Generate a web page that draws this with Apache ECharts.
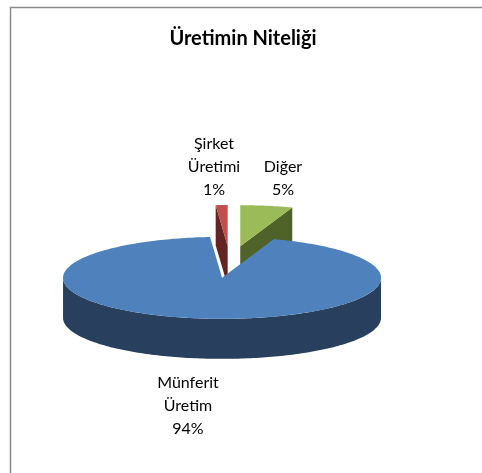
<!DOCTYPE html>
<html>
<head>
<meta charset="utf-8">
<script src="https://cdn.jsdelivr.net/npm/echarts@6/dist/echarts.min.js"></script>
<style>
  html, body { margin: 0; padding: 0; background: #fff; }
  #chart { width: 482px; height: 473px; }
</style>
</head>
<body>
<div id="chart"></div>
<script>
  // data, clockwise from 12 o'clock (shares in %, labels round them)
  const names = ['Diğer', 'Münferit Üretim', 'Şirket Üretimi'];
  const values = [5.3, 93.5, 1.2];

  const topColors = ['#9BBB59', '#4F81BD', '#C0504D'];
  const sideColors = ['#4F6228', '#283F5E', '#632523'];
  // label centres (px) and pie layout
  const labelXY = [[283, 178], [188, 406], [214, 167]];
  const cx = 230, cy = 262, rx = 159, ry = 41, depth = 40, explode = 62;

  const total = values.reduce((a, b) => a + b, 0);
  let acc = 0;
  const startA = [], endA = [];
  values.forEach(v => {
    startA.push(acc / total * Math.PI * 2);
    acc += v;
    endA.push(acc / total * Math.PI * 2);
  });

  function pt(a, ox, oy, dz) {
    return [cx + ox + rx * Math.sin(a), cy + oy - ry * Math.cos(a) + dz];
  }

  function arc(a0, a1, ox, oy, dz) {
    let pts = [];
    let n = Math.max(2, Math.ceil((a1 - a0) / 0.02));
    for (let i = 0; i <= n; i++) pts.push(pt(a0 + (a1 - a0) * i / n, ox, oy, dz));
    return pts;
  }

  let myChart = echarts.init(document.getElementById('chart'));

  myChart.setOption({
    animation: false,
    title: {
      text: 'Üretimin Niteliği',
      left: 238,
      top: 24,
      textAlign: 'center',
      textStyle: {
        fontFamily: 'Lato',
        fontWeight: 'bold',
        fontSize: 20,
        color: '#000'
      }
    },
    graphic: [{
      type: 'polyline',
      shape: { points: [[10.5, 473], [10.5, 7.5], [482, 7.5]] },
      style: { stroke: '#8c8c8c', lineWidth: 1.5, fill: null }
    }],
    series: [{
      type: 'custom',
      coordinateSystem: 'none',
      data: values,
      renderItem: function (params, api) {
        let i = params.dataIndex;
        let a0 = startA[i], a1 = endA[i];
        let mid = (a0 + a1) / 2;
        let ox = explode * Math.sin(mid);
        let oy = -explode * Math.cos(mid) * ry / rx;
        let apex = [cx + ox, cy + oy];
        let zBase = Math.round(-Math.cos(mid) * 100) + 200;
        let children = [];

        // radial faces that look towards the viewer
        [[a0, -1], [a1, 1]].forEach(([a, dir]) => {
          let ny = -dir * Math.sin(a); // north component of outward normal
          if (ny < -0.001) {
            let rim = pt(a, ox, oy, 0);
            children.push({
              type: 'polygon',
              z2: zBase,
              shape: { points: [apex, rim, [rim[0], rim[1] + depth], [apex[0], apex[1] + depth]] },
              style: { fill: sideColors[i] }
            });
          }
        });

        // outer wall, front half only
        let w0 = Math.max(a0, Math.PI / 2), w1 = Math.min(a1, Math.PI * 1.5);
        if (w1 > w0) {
          let topArc = arc(w0, w1, ox, oy, 0);
          let botArc = arc(w0, w1, ox, oy, depth).reverse();
          children.push({
            type: 'polygon',
            z2: zBase + 1,
            shape: { points: topArc.concat(botArc) },
            style: { fill: sideColors[i] }
          });
        }

        // top face
        children.push({
          type: 'polygon',
          z2: zBase + 2,
          shape: { points: [apex].concat(arc(a0, a1, ox, oy, 0)) },
          style: { fill: topColors[i] }
        });

        // label
        let pct = Math.round(api.value(0) / total * 100) + '%';
        children.push({
          type: 'text',
          z2: 1000,
          style: {
            text: names[i].split(' ').join('\n') + '\n' + pct,
            x: labelXY[i][0],
            y: labelXY[i][1],
            align: 'center',
            verticalAlign: 'middle',
            fontFamily: 'Lato',
            fontSize: 16,
            lineHeight: 23,
            fill: '#000'
          }
        });

        return { type: 'group', children: children };
      }
    }]
  });

  window.addEventListener('resize', () => {
    myChart.resize();
  });
</script>
</body>
</html>
